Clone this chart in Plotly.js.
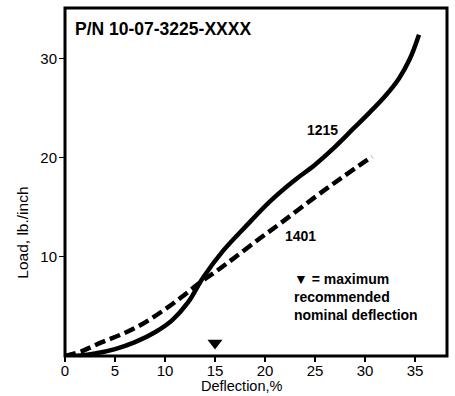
<!DOCTYPE html>
<html><head><meta charset="utf-8">
<script src="https://cdn.plot.ly/plotly-3.0.1.min.js"></script>
<style>body{margin:0;background:#fff}#c{width:455px;height:396px}</style>
</head><body><div id="c"></div>
<script>
const x1215 = [0, 1.5, 3, 5, 7, 9, 10.7, 12.3, 13.8, 15.8, 18.1, 20.4, 22.8, 25, 27, 28.8, 30.5, 32, 33.4, 34.5, 35.4];
const y1215 = [0, 0.05, 0.25, 0.7, 1.4, 2.4, 3.6, 5.4, 7.9, 10.6, 13.1, 15.5, 17.6, 19.3, 21.1, 22.9, 24.6, 26.2, 28.0, 30.0, 32.4];
const x1401 = [0, 1.7, 3.7, 5.7, 7.7, 9.7, 11.6, 13.5, 15.2, 16.8, 19.4, 21.7, 24.7, 27.7, 30.7];
const y1401 = [0, 0.5, 1.4, 2.2, 3.2, 4.5, 5.9, 7.4, 8.6, 9.8, 11.8, 13.5, 15.8, 18.0, 20.1];
const markerX = [15];
const markerY = [1.3];
const xTicks = [0, 5, 10, 15, 20, 25, 30, 35];
const yTicks = [10, 20, 30];

const F = 'Arial, "Liberation Sans", sans-serif';

const data = [
  {x: x1215, y: y1215, mode: 'lines', line: {color: '#000', width: 4.5, shape: 'spline', smoothing: 1}, hoverinfo: 'skip'},
  {x: x1401, y: y1401, mode: 'lines', line: {color: '#000', width: 4.5, dash: '11px,5px', shape: 'spline', smoothing: 1}, hoverinfo: 'skip'},
  {x: markerX, y: markerY, mode: 'markers', marker: {symbol: 'triangle-down', size: 13, color: '#000'}, hoverinfo: 'skip'}
];

const layout = {
  width: 455, height: 396,
  margin: {l: 65, r: 8, t: 8, b: 40},
  showlegend: false,
  paper_bgcolor: '#fff', plot_bgcolor: '#fff',
  xaxis: {range: [0, 38.2], tickvals: xTicks, ticks: 'outside', ticklen: 5, tickwidth: 1.2, tickcolor: '#000',
    showgrid: false, zeroline: false, showline: false, ticklabelstandoff: -4,
    tickfont: {family: F, size: 15, color: '#000'}},
  yaxis: {range: [0, 35.1], tickvals: yTicks, ticks: 'outside', ticklen: 5, tickwidth: 1.2, tickcolor: '#000',
    showgrid: false, zeroline: false, showline: false, ticklabelstandoff: -1,
    tickfont: {family: F, size: 15, color: '#000'}},
  shapes: [
    {type: 'rect', xref: 'paper', yref: 'paper', x0: 0, x1: 1, y0: 0, y1: 1, line: {color: '#000', width: 3}, fillcolor: 'rgba(0,0,0,0)'}
  ],
  annotations: [
    {xref: 'paper', yref: 'paper', x: 0.022, y: 0.941, xanchor: 'left', yanchor: 'middle', showarrow: false,
      text: '<b>P/N 10-07-3225-XXXX</b>', font: {family: F, size: 17.5, color: '#000'}},
    {xref: 'x', yref: 'y', x: 25.7, y: 22.8, showarrow: false, text: '<b>1215</b>', font: {family: F, size: 14, color: '#000'}},
    {xref: 'x', yref: 'y', x: 23.5, y: 12.1, showarrow: false, text: '<b>1401</b>', font: {family: F, size: 14, color: '#000'}},
    {xref: 'paper', yref: 'paper', x: 0.593, y: 0.25, xanchor: 'left', yanchor: 'top', align: 'left', showarrow: false,
      text: '<b>▼ = maximum<br>recommended<br>nominal deflection</b>', font: {family: F, size: 14, color: '#000'}},
    {xref: 'paper', yref: 'paper', x: 0.463, y: -0.087, xanchor: 'center', yanchor: 'middle', showarrow: false,
      text: 'Deflection,%', font: {family: F, size: 14.5, color: '#000'}},
    {xref: 'paper', yref: 'paper', x: -0.112, y: 0.355, xanchor: 'center', yanchor: 'middle', textangle: -90, showarrow: false,
      text: 'Load, lb./inch', font: {family: F, size: 15.5, color: '#000'}}
  ]
};
Plotly.newPlot('c', data, layout, {staticPlot: true, displayModeBar: false});
</script></body></html>
